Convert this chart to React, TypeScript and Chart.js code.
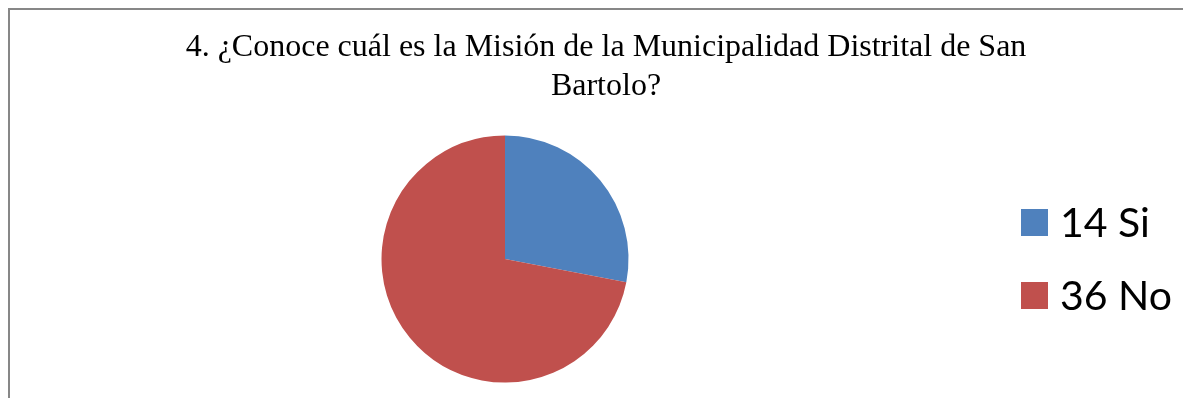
import React, { useEffect, useRef } from 'react';
import { Chart, registerables, layouts } from 'chart.js';

Chart.register(...registerables);

const TITLE_LINES = ['4. ¿Conoce cuál es la Misión de la Municipalidad Distrital de San', 'Bartolo?'];
const CATEGORIES = ['14 Si', '36 No'];
const VALUES = [14, 36];
const COLORS = ['#4F81BD', '#C0504D'];

const W = 1181;
const H = 388;
const SPACER_WIDTH = 202;

export default function App() {
  const ref = useRef<HTMLCanvasElement | null>(null);

  useEffect(() => {
    if (!ref.current) return;
    document.documentElement.style.overflow = 'hidden';
    document.body.style.overflow = 'hidden';

    const rightSpacer = {
      id: 'rightSpacer',
      beforeInit(chart: any) {
        const box: any = {
          position: 'right',
          weight: 0,
          fullSize: false,
          options: {},
          top: 0,
          left: 0,
          right: 0,
          bottom: 0,
          width: 0,
          height: 0,
          isHorizontal: () => false,
          update(maxWidth: number, maxHeight: number) {
            box.width = SPACER_WIDTH;
            box.height = maxHeight;
          },
          draw() {},
        };
        layouts.addBox(chart, box);
      },
    };

    const customLegend = {
      id: 'customLegend',
      afterDraw(chart: any) {
        const ctx = chart.ctx as CanvasRenderingContext2D;
        const labels = chart.data.labels as string[];
        const colors = chart.data.datasets[0].backgroundColor as string[];
        const boxX = 1011;
        const boxSize = 27;
        const baselines = [226.5, 299.5];
        ctx.save();
        ctx.font = '41px Lato';
        ctx.textBaseline = 'alphabetic';
        ctx.textAlign = 'left';
        labels.forEach((label, i) => {
          const base = baselines[i];
          ctx.fillStyle = colors[i];
          ctx.fillRect(boxX, base - boxSize - 0.5, boxSize, boxSize);
          ctx.fillStyle = '#000000';
          ctx.fillText(label, boxX + boxSize + 12, base);
        });
        ctx.restore();
      },
    };

    const chart = new Chart(ref.current, {
      type: 'pie',
      data: {
        labels: CATEGORIES,
        datasets: [
          {
            data: VALUES,
            backgroundColor: COLORS,
            borderWidth: 0,
            hoverOffset: 0,
          },
        ],
      },
      options: {
        responsive: false,
        animation: false,
        events: [],
        radius: 123.5,
        layout: { padding: { left: 11, right: 0, top: 0, bottom: 15 } },
        plugins: {
          legend: { display: false },
          tooltip: { enabled: false },
          title: {
            display: true,
            text: TITLE_LINES,
            color: '#000000',
            font: { family: '"Liberation Serif", "Times New Roman", serif', size: 32, weight: 'normal', lineHeight: 1.19 },
            padding: { top: 19, bottom: 30 },
          },
        },
      } as any,
      plugins: [rightSpacer, customLegend],
    });

    return () => chart.destroy();
  }, []);

  return (
    <div
      style={{
        borderLeft: '2px solid #878787',
        borderTop: '2px solid #878787',
        width: W + 60,
        height: H,
      }}
    >
      <canvas ref={ref} width={W} height={H} style={{ display: 'block', width: W, height: H }} />
    </div>
  );
}
